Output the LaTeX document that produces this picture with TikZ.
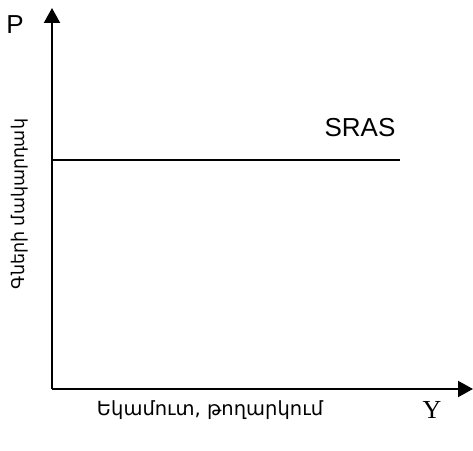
\documentclass[tikz,border=0pt]{standalone}
\usepackage{fontspec}
\setmainfont{Liberation Sans}
\newfontfamily\armfont{DejaVu Sans}
\newfontfamily\timesfont{Liberation Serif}
\usetikzlibrary{arrows.meta}

\begin{document}
\begin{tikzpicture}[x=1pt, y=1pt]
	\tikzstyle{every node} = [inner sep=0pt, font=\fontsize{26}{30}\selectfont]
	\tikzstyle{axis} = [line width=2.2pt, -{Triangle[length=15pt, width=16pt]}]
	\useasboundingbox (0,0) rectangle (473,450);
	\coordinate (o) at (52,61);
	\coordinate (ptip) at (52,442);
	\coordinate (ytip) at (473,61);
	\coordinate (s1) at (52,290);
	\coordinate (s2) at (400,290);
	\node (p) at (15,425) {P};
	\node (sras) at (360,322) {SRAS};
	\node (y) at (432,40) {\timesfont Y};
	\node (income) at (210,40) {\armfont\fontsize{19.5}{23}\selectfont Եկամուտ, թողարկում};
	\node[rotate=90] (price) at (20,246) {\armfont\fontsize{17.5}{21}\selectfont Գների մակարդակ};
	\draw [axis] (o)--(ptip);
	\draw [axis] (o)--(ytip);
	\draw [line width=2.2pt] (s1)--(s2);
\end{tikzpicture}
\end{document}
